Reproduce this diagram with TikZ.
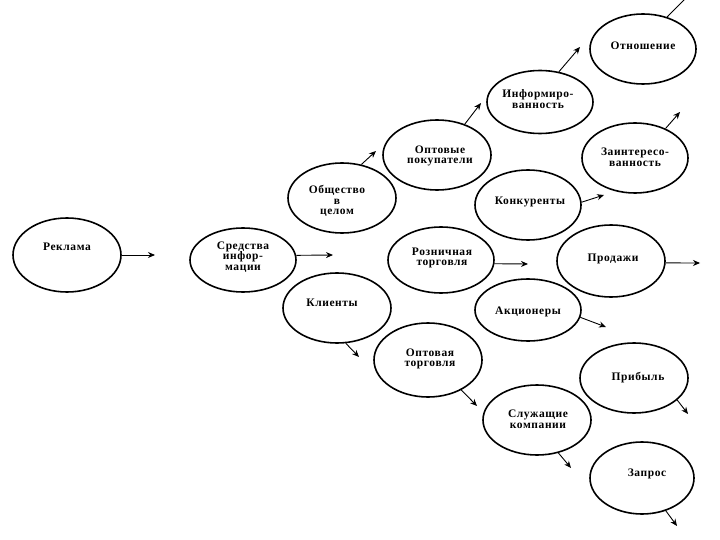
\documentclass[tikz,border=0pt]{standalone}
\usepackage{fontspec}
\setmainfont{Liberation Serif}[LetterSpace=5]
\usetikzlibrary{shapes.geometric,arrows.meta}
\tikzset{
  oval/.style={ellipse, draw, line width=1.6pt, inner sep=0pt},
  lbl/.style={font=\fontsize{11.5}{10.8}\selectfont\bfseries, align=center, inner sep=0pt},
  arr/.style={line width=0.9pt, -{Stealth[length=7pt,width=6pt]}},
}
\begin{document}
\begin{tikzpicture}[x=1pt,y=-1pt]
\useasboundingbox (0,0) rectangle (720,540);
\clip (0,0) rectangle (720,540);
% ellipses
\node[oval, minimum width=108pt, minimum height=74pt] (rek) at (67,255) {};
\node[oval, minimum width=106pt, minimum height=64pt] (sr) at (243,260) {};
\node[oval, minimum width=108pt, minimum height=70pt] (ob) at (342,198) {};
\node[oval, minimum width=108pt, minimum height=70pt] (op) at (437,155) {};
\node[oval, minimum width=106pt, minimum height=63pt] (inf) at (540,102) {};
\node[oval, minimum width=106pt, minimum height=70pt] (otn) at (643,49) {};
\node[oval, minimum width=106pt, minimum height=70pt] (zai) at (635,158) {};
\node[oval, minimum width=106pt, minimum height=70pt] (kon) at (528,205) {};
\node[oval, minimum width=106pt, minimum height=66pt] (roz) at (441,260) {};
\node[oval, minimum width=108pt, minimum height=72pt] (prod) at (611,261) {};
\node[oval, minimum width=108pt, minimum height=70pt] (kli) at (337,308) {};
\node[oval, minimum width=106pt, minimum height=62pt] (akc) at (528,310) {};
\node[oval, minimum width=108pt, minimum height=74pt] (opt) at (428,360) {};
\node[oval, minimum width=108pt, minimum height=70pt] (slu) at (537,420) {};
\node[oval, minimum width=108pt, minimum height=70pt] (pri) at (634,378) {};
\node[oval, minimum width=104pt, minimum height=72pt] (zap) at (642,478) {};
% texts
\node[lbl] (trek) at (67,247) {Реклама};
\node[lbl] (tsr) at (243,257) {Средства\\инфор-\\мации};
\node[lbl] (tob) at (337,201) {Общество\\в\\целом};
\node[lbl] (top) at (440,156) {Оптовые\\покупатели};
\node[lbl] (tinf) at (538,99) {Информиро-\\ванность};
\node[lbl] (totn) at (643,46) {Отношение};
\node[lbl] (tzai) at (635,157) {Заинтересо-\\ванность};
\node[lbl] (tkon) at (530,202) {Конкуренты};
\node[lbl] (troz) at (442,258) {Розничная\\торговля};
\node[lbl] (tprod) at (613,259) {Продажи};
\node[lbl] (tkli) at (332,303) {Клиенты};
\node[lbl] (takc) at (528,312) {Акционеры};
\node[lbl] (topt) at (430,359) {Оптовая\\торговля};
\node[lbl] (tslu) at (538,419) {Служащие\\компании};
\node[lbl] (tpri) at (638,378) {Прибыль};
\node[lbl] (tzap) at (647,474) {Запрос};
% free ends
\coordinate (erek) at (155,255);
\coordinate (esr) at (333,255);
\coordinate (eob) at (376,151);
\coordinate (eop) at (481,103);
\coordinate (einf) at (580,47);
\coordinate (eotn) at (692,-8);
\coordinate (ezai) at (680,112);
\coordinate (ekon) at (604,195);
\coordinate (eroz) at (528,264);
\coordinate (eprod) at (700,263);
\coordinate (ekli) at (359,357);
\coordinate (eakc) at (606,327);
\coordinate (eopt) at (477,406);
\coordinate (eslu) at (571,468);
\coordinate (epri) at (688,414);
\coordinate (ezap) at (677,526);
% arrows
\draw[arr] (rek.east) -- (erek);
\draw[arr] (sr.5) -- (esr);
\draw[arr] (ob.60) -- (eob);
\draw[arr] (op.48) -- (eop);
\draw[arr] (inf.58) -- (einf);
\draw[line width=0.9pt] (otn.53) -- (eotn);
\draw[arr] (zai.44) -- (ezai);
\draw[arr] (kon.3) -- (ekon);
\draw[arr] (roz.-4) -- (eroz);
\draw[arr] (prod.-2) -- (eprod);
\draw[arr] (kli.-76) -- (ekli);
\draw[arr] (akc.-8) -- (eakc);
\draw[arr] (opt.-42) -- (eopt);
\draw[arr] (slu.-57) -- (eslu);
\draw[arr] (pri.-27) -- (epri);
\draw[arr] (zap.-54) -- (ezap);
\end{tikzpicture}
\end{document}
